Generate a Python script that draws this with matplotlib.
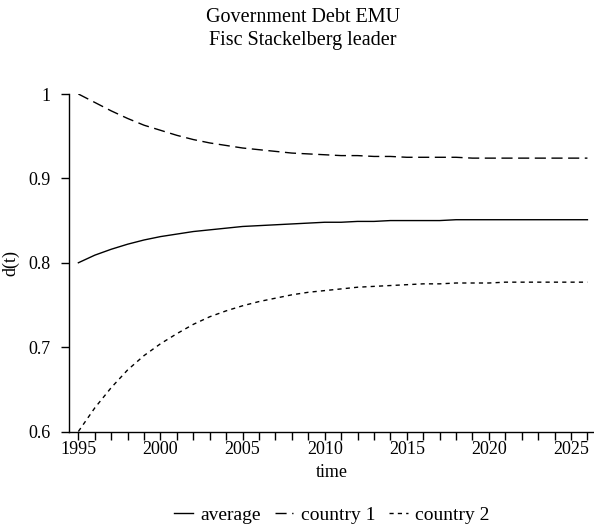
import matplotlib
matplotlib.use("Agg")
import matplotlib.pyplot as plt
from matplotlib.ticker import MultipleLocator

years = list(range(1995, 2027))

average = [0.800, 0.809, 0.816, 0.822, 0.827, 0.831, 0.834, 0.837, 0.839, 0.841,
           0.843, 0.844, 0.845, 0.846, 0.847, 0.848, 0.848, 0.849, 0.849, 0.850,
           0.850, 0.850, 0.850, 0.851, 0.851, 0.851, 0.851, 0.851, 0.851, 0.851,
           0.851, 0.851]
country1 = [1.000, 0.990, 0.980, 0.971, 0.963, 0.957, 0.951, 0.946, 0.942, 0.939,
            0.936, 0.934, 0.932, 0.930, 0.929, 0.928, 0.927, 0.927, 0.926, 0.926,
            0.925, 0.925, 0.925, 0.925, 0.924, 0.924, 0.924, 0.924, 0.924, 0.924,
            0.924, 0.924]
country2 = [0.600, 0.628, 0.652, 0.673, 0.690, 0.704, 0.716, 0.727, 0.736, 0.743,
            0.749, 0.754, 0.758, 0.762, 0.765, 0.767, 0.769, 0.771, 0.772, 0.773,
            0.774, 0.775, 0.775, 0.776, 0.776, 0.776, 0.777, 0.777, 0.777, 0.777,
            0.777, 0.777]

yticks = [0.6, 0.7, 0.8, 0.9, 1.0]
ytick_labels = ["0.6", "0.7", "0.8", "0.9", "1"]
xticks = [1995, 2000, 2005, 2010, 2015, 2020, 2025]

plt.rcParams["font.family"] = ["Liberation Serif", "DejaVu Serif"]

fig = plt.figure(figsize=(5.94, 5.29), dpi=100)
ax = fig.add_axes([0.1162, 0.1843, 0.8838, 0.638])

ax.plot(years, average, color="black", lw=1.0, label="average")
ax.plot(years, country1, color="black", lw=1.0, dashes=(8, 4), label="country 1")
ax.plot(years, country2, color="black", lw=1.0, dashes=(3, 3), label="country 2")

ax.set_xlim(1994.43, 2026.4)
ax.set_ylim(0.6, 1.0)
ax.set_xticks(xticks)
ax.xaxis.set_minor_locator(MultipleLocator(1))
ax.set_yticks(yticks)
ax.set_yticklabels(ytick_labels)

for side in ("top", "right"):
    ax.spines[side].set_visible(False)
for side in ("left", "bottom"):
    ax.spines[side].set_linewidth(1.0)
ax.tick_params(axis="both", which="major", direction="out", length=6, width=1,
               labelsize=13, colors="black")
ax.tick_params(axis="x", which="major", pad=1)
ax.tick_params(axis="y", which="major", pad=7)
ax.tick_params(axis="x", which="minor", direction="out", length=6, width=1)

ax.set_xlabel("time", fontsize=13, labelpad=4)
ax.set_ylabel("d(t)", fontsize=13, labelpad=7)

fig.text(0.51, 0.966, "Government Debt EMU", ha="center", va="center", fontsize=14.5)
fig.text(0.51, 0.923, "Fisc Stackelberg leader", ha="center", va="center", fontsize=14.5)

fig.legend(loc="center", bbox_to_anchor=(0.559, 0.0265), ncol=3, frameon=False,
           fontsize=14, handlelength=0.95, columnspacing=0.7, handletextpad=0.4,
           borderpad=0.2)

fig.savefig("out.png", dpi=100)
